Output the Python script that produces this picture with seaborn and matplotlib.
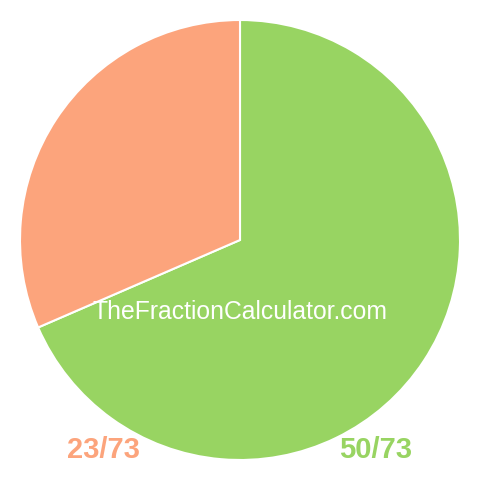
import seaborn as sns
import matplotlib.pyplot as plt

labels = ["50/73", "23/73"]
values = [50, 23]
colors = ["#98D462", "#FCA47C"]

sns.set_theme(style="white")
plt.rcParams["font.family"] = ["Liberation Sans", "DejaVu Sans"]

fig = plt.figure(figsize=(4.8, 4.8), dpi=100)
ax = fig.add_axes([0, 0, 1, 1])
ax.pie(
    values,
    colors=sns.color_palette(colors),
    startangle=90,
    counterclock=False,
    wedgeprops={"edgecolor": "white", "linewidth": 1.5},
)
lim = 240 / 220
ax.set_xlim(-lim, lim)
ax.set_ylim(-lim, lim)
ax.set_aspect("equal")
ax.axis("off")

# watermark and fraction labels
ax.text(0, -72 / 220, "TheFractionCalculator.com", color="white", fontsize=17.8,
        ha="center", va="center")
ax.text(-137 / 220, -210 / 220, labels[1], color=colors[1], fontsize=21,
        fontweight="bold", ha="center", va="center")
ax.text(136 / 220, -210 / 220, labels[0], color=colors[0], fontsize=21,
        fontweight="bold", ha="center", va="center")

fig.savefig("out.png", dpi=100)
